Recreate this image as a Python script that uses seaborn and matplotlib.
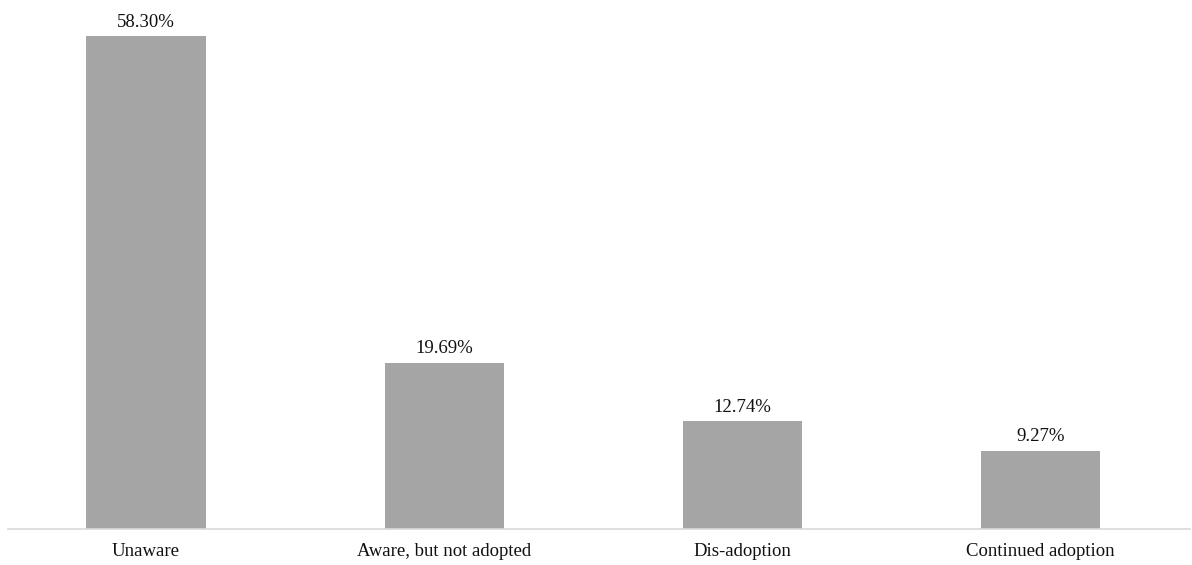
import matplotlib
matplotlib.use("Agg")
import matplotlib.pyplot as plt
import seaborn as sns
import pandas as pd

categories = ["Unaware", "Aware, but not adopted", "Dis-adoption", "Continued adoption"]
shares = [58.30, 19.69, 12.74, 9.27]

sns.set_theme(style="white")
plt.rcParams["font.family"] = ["Liberation Serif", "DejaVu Serif"]

df = pd.DataFrame({"status": categories, "share": shares})

fig = plt.figure(figsize=(11.92, 5.65), dpi=100)
ax = fig.add_axes([8 / 1192, 36 / 565, 1182 / 1192, 529 / 565])

sns.barplot(data=df, x="status", y="share", color="#A5A5A5", width=0.4,
            saturation=1, linewidth=0, ax=ax)

for patch, val in zip(ax.patches, shares):
    ax.annotate(f"{val:.2f}%", (patch.get_x() + patch.get_width() / 2, val),
                xytext=(0, 4), textcoords="offset points",
                ha="center", va="bottom", fontsize=13.5, color="#111111")

ax.set_xlim(-0.463, 3.501)
ax.set_ylim(0, 62.6)
ax.set_xlabel("")
ax.set_ylabel("")
ax.set_yticks([])
ax.tick_params(axis="x", length=0, pad=10, labelsize=13.5, labelcolor="#111111")
for side in ["top", "left", "right"]:
    ax.spines[side].set_visible(False)
ax.spines["bottom"].set_color("#D9D9D9")
ax.spines["bottom"].set_linewidth(1.2)

fig.savefig("out.png", dpi=100, facecolor="white")
